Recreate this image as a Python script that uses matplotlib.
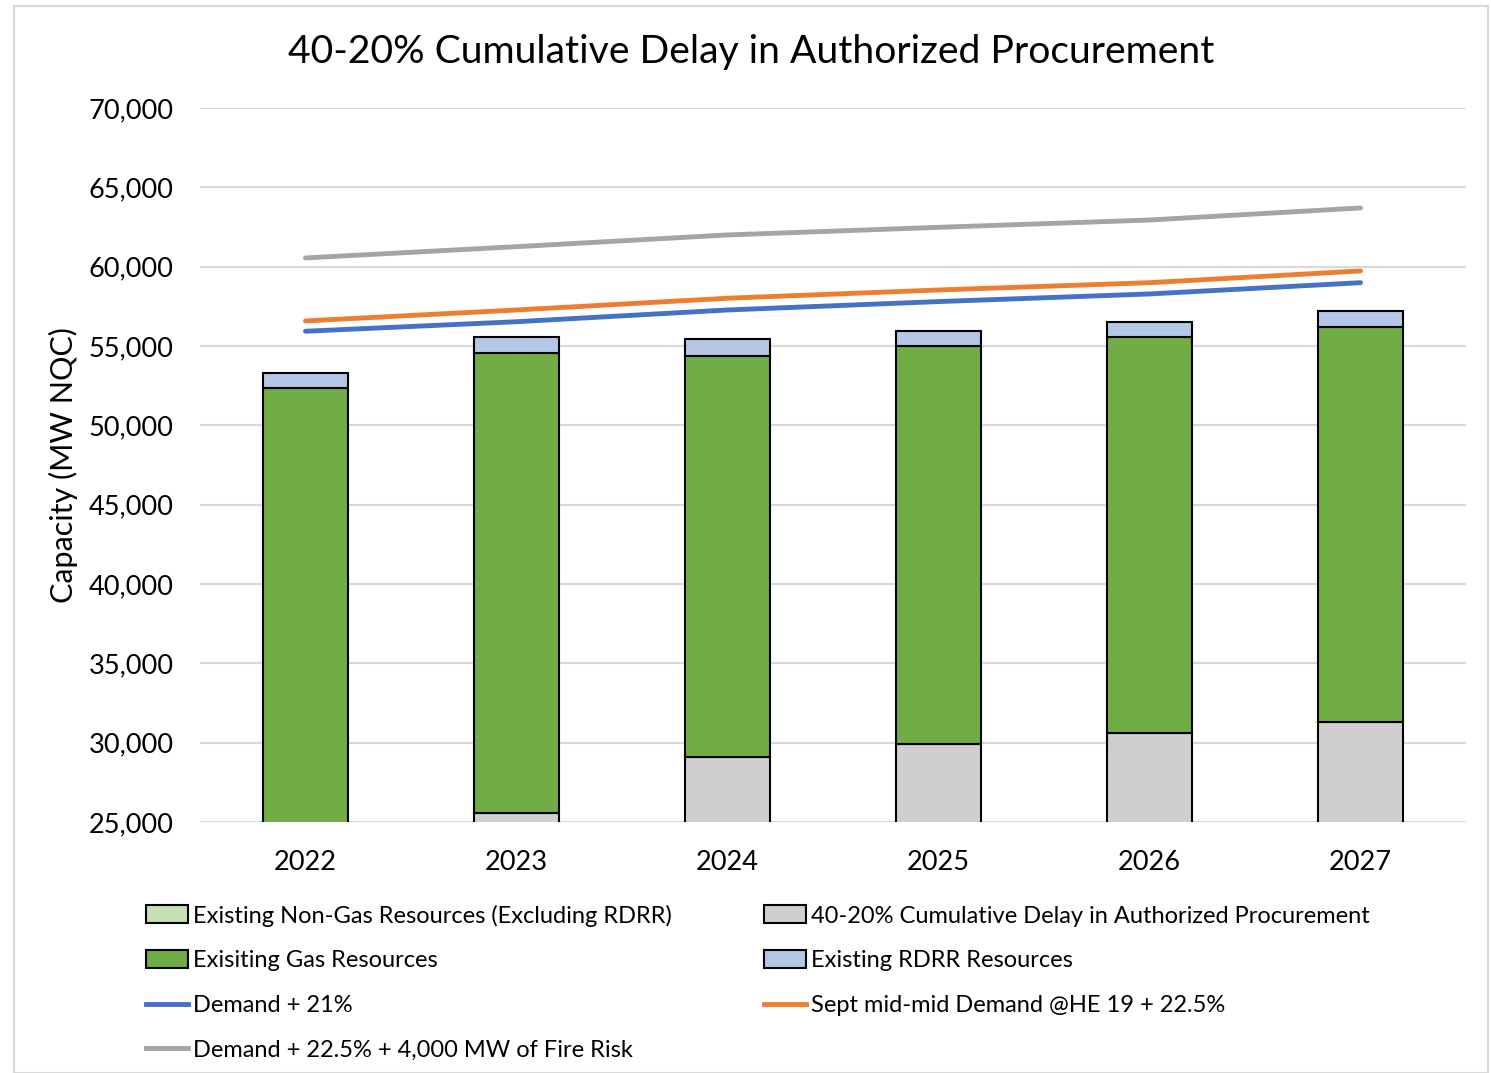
import matplotlib
matplotlib.use("Agg")
import matplotlib.pyplot as plt
import numpy as np
from matplotlib.patches import Patch, Rectangle
from matplotlib.lines import Line2D

plt.rcParams['font.family'] = ['Lato', 'DejaVu Sans']

years = ["2022", "2023", "2024", "2025", "2026", "2027"]
non_gas = [23000, 23000, 23000, 23000, 23000, 23000]
delay = [0, 2590, 6120, 6900, 7610, 8300]
gas = [29355, 28990, 25260, 25080, 24940, 24920]
rdrr = [950, 1010, 1080, 990, 980, 1010]
demand_21 = [55930, 56530, 57270, 57800, 58280, 58990]
sept_demand = [56580, 57270, 58010, 58530, 58990, 59730]
fire_risk = [60550, 61260, 62000, 62480, 62940, 63700]
yticks = [25000, 30000, 35000, 40000, 45000, 50000, 55000, 60000, 65000, 70000]

c_nongas = "#C5E0B4"
c_delay = "#D0CECE"
c_gas = "#70AD47"
c_rdrr = "#B4C7E7"
c_blue = "#4472C4"
c_orange = "#ED7D31"
c_greyline = "#A5A5A5"

fig = plt.figure(figsize=(14.91, 10.73), dpi=100)
fig.patches.append(Rectangle((14/1491, 0), (1488-14)/1491, (1073-6)/1073,
                             transform=fig.transFigure, fill=False,
                             edgecolor="#D9D9D9", linewidth=1.5))
ax = fig.add_axes([200/1491, (1073-822)/1073, 1266/1491, 714/1073])

x = np.arange(len(years))
w = 0.4
ek = dict(edgecolor="black", linewidth=1.5, zorder=3)
ax.bar(x, non_gas, w, color=c_nongas, **ek)
bot = np.array(non_gas, dtype=float)
ax.bar(x, delay, w, bottom=bot, color=c_delay, **ek)
bot += np.array(delay)
ax.bar(x, gas, w, bottom=bot, color=c_gas, **ek)
bot += np.array(gas)
ax.bar(x, rdrr, w, bottom=bot, color=c_rdrr, **ek)

lw = 3.5
ax.plot(x, demand_21, color=c_blue, lw=lw, zorder=4, solid_capstyle="round")
ax.plot(x, sept_demand, color=c_orange, lw=lw, zorder=4, solid_capstyle="round")
ax.plot(x, fire_risk, color=c_greyline, lw=lw, zorder=4, solid_capstyle="round")

ax.set_xlim(-0.5, 5.5)
ax.set_ylim(25000, 70000)
ax.set_yticks(yticks)
ax.set_yticklabels([f"{v:,}" for v in yticks], fontsize=19.5)
ax.set_xticks(x)
ax.set_xticklabels(years, fontsize=19.5)
ax.tick_params(axis="x", length=0, pad=20.5)
ax.tick_params(axis="y", length=0, pad=19)
ax.yaxis.grid(True, color="#D9D9D9", linewidth=1.5, zorder=0)
ax.set_axisbelow(True)
for s in ax.spines.values():
    s.set_visible(False)
ax.set_ylabel("Capacity (MW NQC)", fontsize=22, labelpad=8)
fig.text(0.504, 1 - 52/1073, "40-20% Cumulative Delay in Authorized Procurement",
         ha="center", va="center", fontsize=28.2)

h_nongas = Patch(facecolor=c_nongas, edgecolor="black", linewidth=1.5)
h_delay = Patch(facecolor=c_delay, edgecolor="black", linewidth=1.5)
h_gas = Patch(facecolor=c_gas, edgecolor="black", linewidth=1.5)
h_rdrr = Patch(facecolor=c_rdrr, edgecolor="black", linewidth=1.5)
h_blue = Line2D([], [], color=c_blue, lw=lw)
h_orange = Line2D([], [], color=c_orange, lw=lw)
h_grey = Line2D([], [], color=c_greyline, lw=lw)
handles = [h_nongas, h_gas, h_blue, h_grey, h_delay, h_rdrr, h_orange]
labels = ["Existing Non-Gas Resources (Excluding RDRR)", "Exisiting Gas Resources",
          "Demand + 21%", "Demand + 22.5% + 4,000 MW of Fire Risk",
          "40-20% Cumulative Delay in Authorized Procurement", "Existing RDRR Resources",
          "Sept mid-mid Demand @HE 19 + 22.5%"]
fig.legend(handles, labels, ncol=2, loc="upper left",
           bbox_to_anchor=(137/1491, 1 - 895/1073), frameon=False, fontsize=17,
           handlelength=1.78, handleheight=0.8, handletextpad=0.2,
           columnspacing=3.9, labelspacing=1.0, borderaxespad=0)

fig.savefig("out.png", dpi=100)
